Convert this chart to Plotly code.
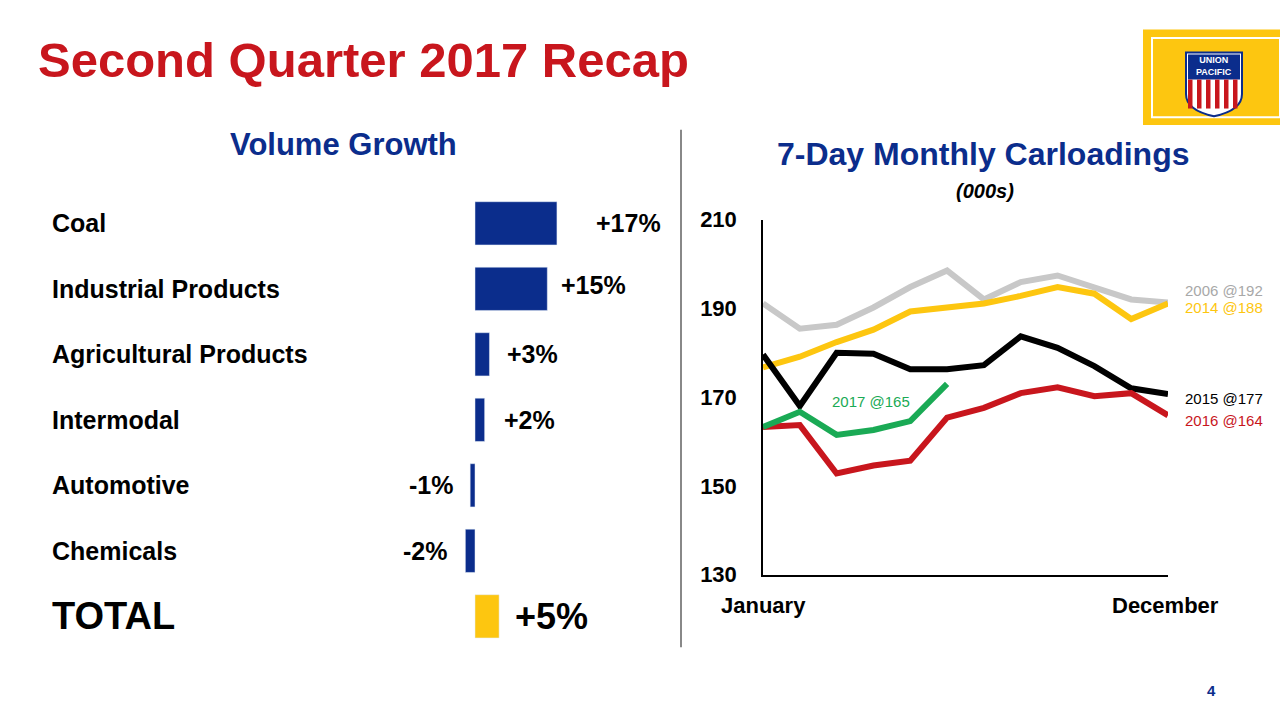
import plotly.graph_objects as go

# ---- data ----
categories = ["Coal", "Industrial Products", "Agricultural Products", "Intermodal",
              "Automotive", "Chemicals", "TOTAL"]
growth = [17, 15, 3, 2, -1, -2, 5]
growth_labels = ["+17%", "+15%", "+3%", "+2%", "-1%", "-2%", "+5%"]

months = list(range(1, 13))
y2006 = [191.1, 185.4, 186.3, 190.2, 194.8, 198.5, 192.0, 195.9, 197.4, 194.6, 192.0, 191.3]
y2014 = [176.7, 179.1, 182.4, 185.2, 189.3, 190.2, 191.1, 192.8, 194.8, 193.3, 187.6, 191.1]
y2015 = [179.6, 168.0, 180.0, 179.8, 176.3, 176.3, 177.2, 183.7, 181.1, 177.0, 172.0, 170.7]
y2016 = [163.3, 163.7, 152.8, 154.6, 155.7, 165.4, 167.6, 170.9, 172.2, 170.2, 170.9, 165.9]
y2017 = [163.3, 166.7, 161.5, 162.6, 164.6, 173.0]

BLUE = "#0b2d8c"
RED = "#c8161d"
YEL = "#fdc610"
FONT = "Liberation Sans, Arial, sans-serif"

def px_x(p): return p / 1280
def px_y(p): return 1 - p / 720

fig = go.Figure()

# volume growth bars
fig.add_trace(go.Bar(
    x=growth, y=categories, orientation="h",
    marker=dict(color=[BLUE] * 6 + [YEL]), width=0.66,
    xaxis="x", yaxis="y", showlegend=False, hoverinfo="skip",
))

# carloadings lines
series = [("2006", y2006, "#c8c8c8"), ("2014", y2014, YEL), ("2015", y2015, "#000000"),
          ("2016", y2016, RED), ("2017", y2017, "#1aaa55")]
for name, ys, col in series:
    fig.add_trace(go.Scatter(x=months[:len(ys)], y=ys, mode="lines", name=name,
                             line=dict(color=col, width=6), xaxis="x2", yaxis="y2",
                             showlegend=False))

ann = []
# category names
for i, c in enumerate(categories):
    ann.append(dict(text=f"<b>{c}</b>", x=px_x(50), xref="paper", y=c, yref="y",
                    xanchor="left", showarrow=False,
                    font=dict(size=38 if c == "TOTAL" else 25, color="black", family=FONT)))
# value labels (x in data units, xanchor right)
label_x = [39.0, 31.8, 17.6, 17.0, -4.2, -5.3, 23.8]
label_dy = [0, 4, 0, 0, 0, 0, 0]
for c, t, lx, dy in zip(categories, growth_labels, label_x, label_dy):
    ann.append(dict(text=f"<b>{t}</b>", x=lx, xref="x", y=c, yref="y", yshift=dy,
                    xanchor="right", showarrow=False,
                    font=dict(size=36 if c == "TOTAL" else 25, color="black", family=FONT)))

ann += [
    dict(text="<b>Second Quarter 2017 Recap</b>", x=px_x(36), y=px_y(50), xanchor="left",
         font=dict(size=49, color=RED, family=FONT)),
    dict(text="<b>Volume Growth</b>", x=px_x(343), y=px_y(137),
         font=dict(size=31, color=BLUE, family=FONT)),
    dict(text="<b>7-Day Monthly Carloadings</b>", x=px_x(983), y=px_y(147),
         font=dict(size=32, color=BLUE, family=FONT)),
    dict(text="<b><i>(000s)</i></b>", x=px_x(985), y=px_y(185),
         font=dict(size=20, color="black", family=FONT)),
    dict(text="<b>January</b>", x=px_x(763), y=px_y(615),
         font=dict(size=22, color="black", family=FONT)),
    dict(text="<b>December</b>", x=px_x(1165), y=px_y(615),
         font=dict(size=22, color="black", family=FONT)),
    dict(text="2006 @192", x=px_x(1183), y=px_y(288), xanchor="left",
         font=dict(size=15, color="#a8a8a8", family=FONT)),
    dict(text="2014 @188", x=px_x(1183), y=px_y(306), xanchor="left",
         font=dict(size=15, color=YEL, family=FONT)),
    dict(text="2015 @177", x=px_x(1183), y=px_y(400), xanchor="left",
         font=dict(size=15, color="black", family=FONT)),
    dict(text="2016 @164", x=px_x(1183), y=px_y(423), xanchor="left",
         font=dict(size=15, color=RED, family=FONT)),
    dict(text="2017 @165", x=px_x(830), y=px_y(404), xanchor="left",
         font=dict(size=15, color="#1aaa55", family=FONT)),
    dict(text="<b>4</b>", x=px_x(1211), y=px_y(703),
         font=dict(size=15, color=BLUE, family=FONT)),
    dict(text="<b>UNION<br>PACIFIC</b>", x=px_x(1214), y=px_y(56),
         font=dict(size=9, color="white", family=FONT)),
]
for a in ann:
    a.setdefault("xref", "paper")
    a.setdefault("yref", "paper")
    a.setdefault("showarrow", False)
    a.setdefault("xanchor", "center")
    a.setdefault("yanchor", "middle")

# shield path (pixel -> paper)
def pt(x, y): return f"{px_x(x)},{px_y(y)}"
shield = ("M " + pt(1186, 42) + " L " + pt(1242, 42) + " L " + pt(1242, 85) +
          " Q " + pt(1242, 102) + " " + pt(1214, 108) + " Q " + pt(1186, 102) + " " +
          pt(1186, 85) + " Z")
stripes = []
for i in range(6):
    x0 = 1188 + i * 9
    stripes.append(dict(type="rect", xref="paper", yref="paper",
                        x0=px_x(x0), x1=px_x(x0 + 4.5), y0=px_y(100), y1=px_y(70),
                        fillcolor=RED, line=dict(width=0), layer="above"))

shapes = [
    dict(type="rect", xref="paper", yref="paper", x0=px_x(1143), x1=px_x(1280),
         y0=px_y(117), y1=px_y(18), fillcolor=YEL, line=dict(width=0)),
    dict(type="rect", xref="paper", yref="paper", x0=px_x(1152), x1=px_x(1280),
         y0=px_y(109), y1=px_y(27), line=dict(color="white", width=2)),
    dict(type="path", xref="paper", yref="paper", path=shield, fillcolor="white",
         line=dict(color="#0b2d8c", width=2)),
    dict(type="rect", xref="paper", yref="paper", x0=px_x(1188), x1=px_x(1240),
         y0=px_y(70), y1=px_y(44), fillcolor=BLUE, line=dict(width=0)),
    dict(type="line", xref="paper", yref="paper", x0=px_x(681), x1=px_x(681),
         y0=px_y(122), y1=px_y(658), line=dict(color="#888888", width=2)),
] + stripes

fig.update_layout(
    width=1280, height=720, margin=dict(l=0, r=0, t=0, b=0),
    paper_bgcolor="white", plot_bgcolor="rgba(0,0,0,0)",
    font=dict(family=FONT),
    xaxis=dict(domain=[px_x(400), px_x(680)], range=[-75 / 4.82, 205 / 4.82],
               visible=False, fixedrange=True),
    yaxis=dict(domain=[px_y(660), px_y(185)], categoryorder="array",
               categoryarray=categories[::-1], visible=False),
    xaxis2=dict(domain=[px_x(763), px_x(1168)], range=[1, 12], showgrid=False,
                showticklabels=False, zeroline=False, showline=True,
                linecolor="black", linewidth=1.5, anchor="y2"),
    yaxis2=dict(domain=[px_y(583), px_y(215)], range=[130, 210], showgrid=False,
                zeroline=False, showline=True, linecolor="black", linewidth=1.5,
                tickvals=[130, 150, 170, 190, 210],
                ticktext=[f"<b>{v}</b>" for v in [130, 150, 170, 190, 210]],
                tickfont=dict(size=22, color="black"), ticks="", ticklabelstandoff=20,
                anchor="x2"),
    annotations=ann, shapes=shapes,
)

fig.write_html("out.html", config={"displayModeBar": False})
# drop the default page margin so the figure sits at the window's corner
with open("out.html") as f:
    page = f.read()
page = page.replace("<body>", '<body style="margin:0">', 1)
with open("out.html", "w") as f:
    f.write(page)
